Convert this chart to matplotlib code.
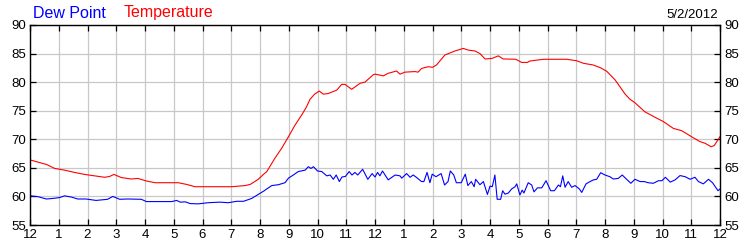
import matplotlib
matplotlib.use('Agg')
import matplotlib.pyplot as plt

# hours since midnight
temp_hours = [0, 0.28, 0.57, 0.86, 1.2, 1.55, 1.9, 2.25, 2.6, 2.77, 2.92, 3.18, 3.52, 3.75,
              4.05, 4.35, 5.16, 5.45, 5.74, 6.32, 7.02, 7.48, 7.66, 7.94, 8.15, 8.23, 8.52,
              8.75, 8.99, 9.22, 9.45, 9.62, 9.74, 9.9, 10.06, 10.2, 10.37, 10.67, 10.84,
              10.96, 11.19, 11.48, 11.65, 11.94, 12.0, 12.29, 12.46, 12.75, 12.87, 13.04,
              13.39, 13.5, 13.62, 13.85, 14.0, 14.14, 14.43, 14.78, 15.07, 15.25, 15.48,
              15.65, 15.83, 16.07, 16.29, 16.46, 16.6, 16.9, 17.1, 17.3, 17.39, 17.86,
              18.67, 19.01, 19.25, 19.59, 19.83, 20.06, 20.35, 20.52, 20.7, 20.87, 21.04,
              21.39, 21.74, 22.03, 22.38, 22.67, 23.01, 23.3, 23.48, 23.69, 23.8, 24.0]
temp_values = [66.4, 66.0, 65.6, 64.9, 64.6, 64.2, 63.85, 63.6, 63.35, 63.5, 63.85, 63.3,
               63.05, 63.15, 62.7, 62.4, 62.4, 62.1, 61.7, 61.7, 61.7, 61.9, 62.1, 63.0,
               64.0, 64.3, 66.7, 68.4, 70.45, 72.5, 74.25, 75.7, 77.0, 77.9, 78.45, 77.9,
               78.0, 78.6, 79.6, 79.6, 78.75, 79.8, 80.0, 81.3, 81.4, 81.1, 81.55, 81.95,
               81.4, 81.75, 81.85, 81.75, 82.4, 82.7, 82.6, 83.0, 84.75, 85.45, 85.9, 85.6,
               85.45, 85.0, 84.05, 84.15, 84.6, 84.05, 84.05, 84.0, 83.45, 83.45, 83.7,
               84.0, 84.0, 83.75, 83.3, 83.0, 82.55, 81.9, 80.4, 79.2, 77.9, 77.0, 76.4,
               74.8, 73.85, 73.1, 71.9, 71.5, 70.45, 69.6, 69.3, 68.7, 68.9, 70.45]

dew_hours = [0, 0.28, 0.57, 0.8, 1.03, 1.2, 1.43, 1.66, 1.95, 2.3, 2.7, 2.88, 3.12, 3.4,
             3.87, 4.05, 4.23, 4.93, 5.1, 5.23, 5.4, 5.57, 5.85, 6.2, 6.61, 6.9, 7.19, 7.43,
             7.71, 7.94, 8.15, 8.23, 8.41, 8.64, 8.87, 8.99, 9.16, 9.33, 9.57, 9.68, 9.77,
             9.86, 10.0, 10.15, 10.32, 10.44, 10.55, 10.65, 10.76, 10.85, 10.97, 11.1, 11.2,
             11.3, 11.4, 11.57, 11.75, 11.9, 12.0, 12.09, 12.17, 12.26, 12.46, 12.7, 12.87,
             12.93, 13.1, 13.22, 13.33, 13.45, 13.62, 13.7, 13.81, 13.91, 13.99, 14.12,
             14.3, 14.42, 14.54, 14.62, 14.74, 14.83, 15.0, 15.14, 15.23, 15.35, 15.45,
             15.5, 15.65, 15.77, 15.91, 16.0, 16.08, 16.17, 16.25, 16.37, 16.44, 16.52,
             16.64, 16.75, 16.87, 16.93, 17.04, 17.12, 17.18, 17.33, 17.45, 17.53, 17.65,
             17.8, 17.95, 18.11, 18.24, 18.38, 18.45, 18.53, 18.61, 18.72, 18.84, 18.96,
             19.11, 19.19, 19.34, 19.48, 19.6, 19.71, 19.85, 20.0, 20.17, 20.29, 20.46,
             20.6, 20.72, 20.9, 21.04, 21.22, 21.37, 21.5, 21.68, 21.86, 21.98, 22.1,
             22.27, 22.44, 22.61, 22.79, 22.96, 23.13, 23.25, 23.42, 23.6, 23.74, 23.93,
             24.0]
dew_values = [60.1, 59.95, 59.55, 59.65, 59.8, 60.1, 59.9, 59.55, 59.55, 59.3, 59.5, 60.0,
              59.5, 59.55, 59.5, 59.1, 59.1, 59.1, 59.3, 59.0, 59.05, 58.75, 58.7, 58.9,
              59.0, 58.9, 59.15, 59.15, 59.65, 60.35, 61.0, 61.3, 61.9, 62.05, 62.4, 63.2,
              63.75, 64.35, 64.6, 65.2, 64.9, 65.2, 64.45, 64.35, 63.6, 63.75, 63.0, 63.75,
              62.6, 63.4, 63.5, 64.35, 63.75, 64.2, 63.75, 64.75, 63.0, 64.0, 63.4, 64.2,
              63.6, 64.45, 62.9, 63.75, 63.6, 63.2, 64.0, 63.35, 63.75, 63.3, 62.6, 62.6,
              64.2, 62.4, 63.9, 63.45, 64.0, 62.0, 62.6, 64.45, 63.75, 62.4, 62.4, 63.9,
              61.9, 62.6, 61.7, 63.0, 62.05, 62.6, 60.35, 61.8, 61.7, 63.75, 59.5, 59.5,
              61.0, 60.4, 60.6, 61.3, 61.7, 62.2, 60.25, 61.1, 60.6, 62.4, 62.0, 60.8, 61.5,
              61.5, 62.75, 61.0, 61.0, 62.0, 61.7, 63.6, 61.6, 62.6, 61.6, 61.9, 61.3, 60.7,
              62.2, 62.6, 62.9, 63.0, 64.15, 63.75, 63.45, 63.05, 63.15, 63.75, 63.15, 62.3,
              63.0, 62.6, 62.6, 62.4, 62.3, 62.75, 62.75, 63.35, 62.5, 62.9, 63.65, 63.45,
              63.0, 63.35, 62.6, 62.2, 63.0, 62.4, 61.0, 61.3]

x_ticks = list(range(0, 25))
x_labels = ['12'] + [str(h) for h in range(1, 12)] + ['12'] + [str(h) for h in range(1, 12)] + ['12']
y_ticks = [55, 60, 65, 70, 75, 80, 85, 90]
date_label = '5/2/2012'

plt.rcParams['font.family'] = ['Liberation Sans', 'DejaVu Sans']

fig = plt.figure(figsize=(7.5, 2.5), dpi=100)
ax = fig.add_axes([0.04, 0.1, 0.92, 0.8])

ax.plot(temp_hours, temp_values, color='#ff0000', lw=0.8)
ax.plot(dew_hours, dew_values, color='#0000ff', lw=0.8)

ax.set_xlim(0, 24)
ax.set_ylim(55, 90)
ax.set_xticks(x_ticks)
ax.set_xticklabels(x_labels)
ax.set_yticks(y_ticks)
ax.grid(True, color='#c8c8c8', lw=0.9)
ax.set_axisbelow(True)
ax.tick_params(direction='in', length=4, width=0.9, top=True, right=True,
               labelright=True, labelsize=9.5, pad=3)
for s in ax.spines.values():
    s.set_linewidth(1.0)

fig.text(0.044, 0.93, 'Dew Point', color='#0000ff', fontsize=11.5)
fig.text(0.165, 0.93, 'Temperature', color='#ff0000', fontsize=11.5)
fig.text(0.958, 0.93, date_label, color='black', fontsize=9.5, ha='right')

fig.savefig('out.png', dpi=100)
